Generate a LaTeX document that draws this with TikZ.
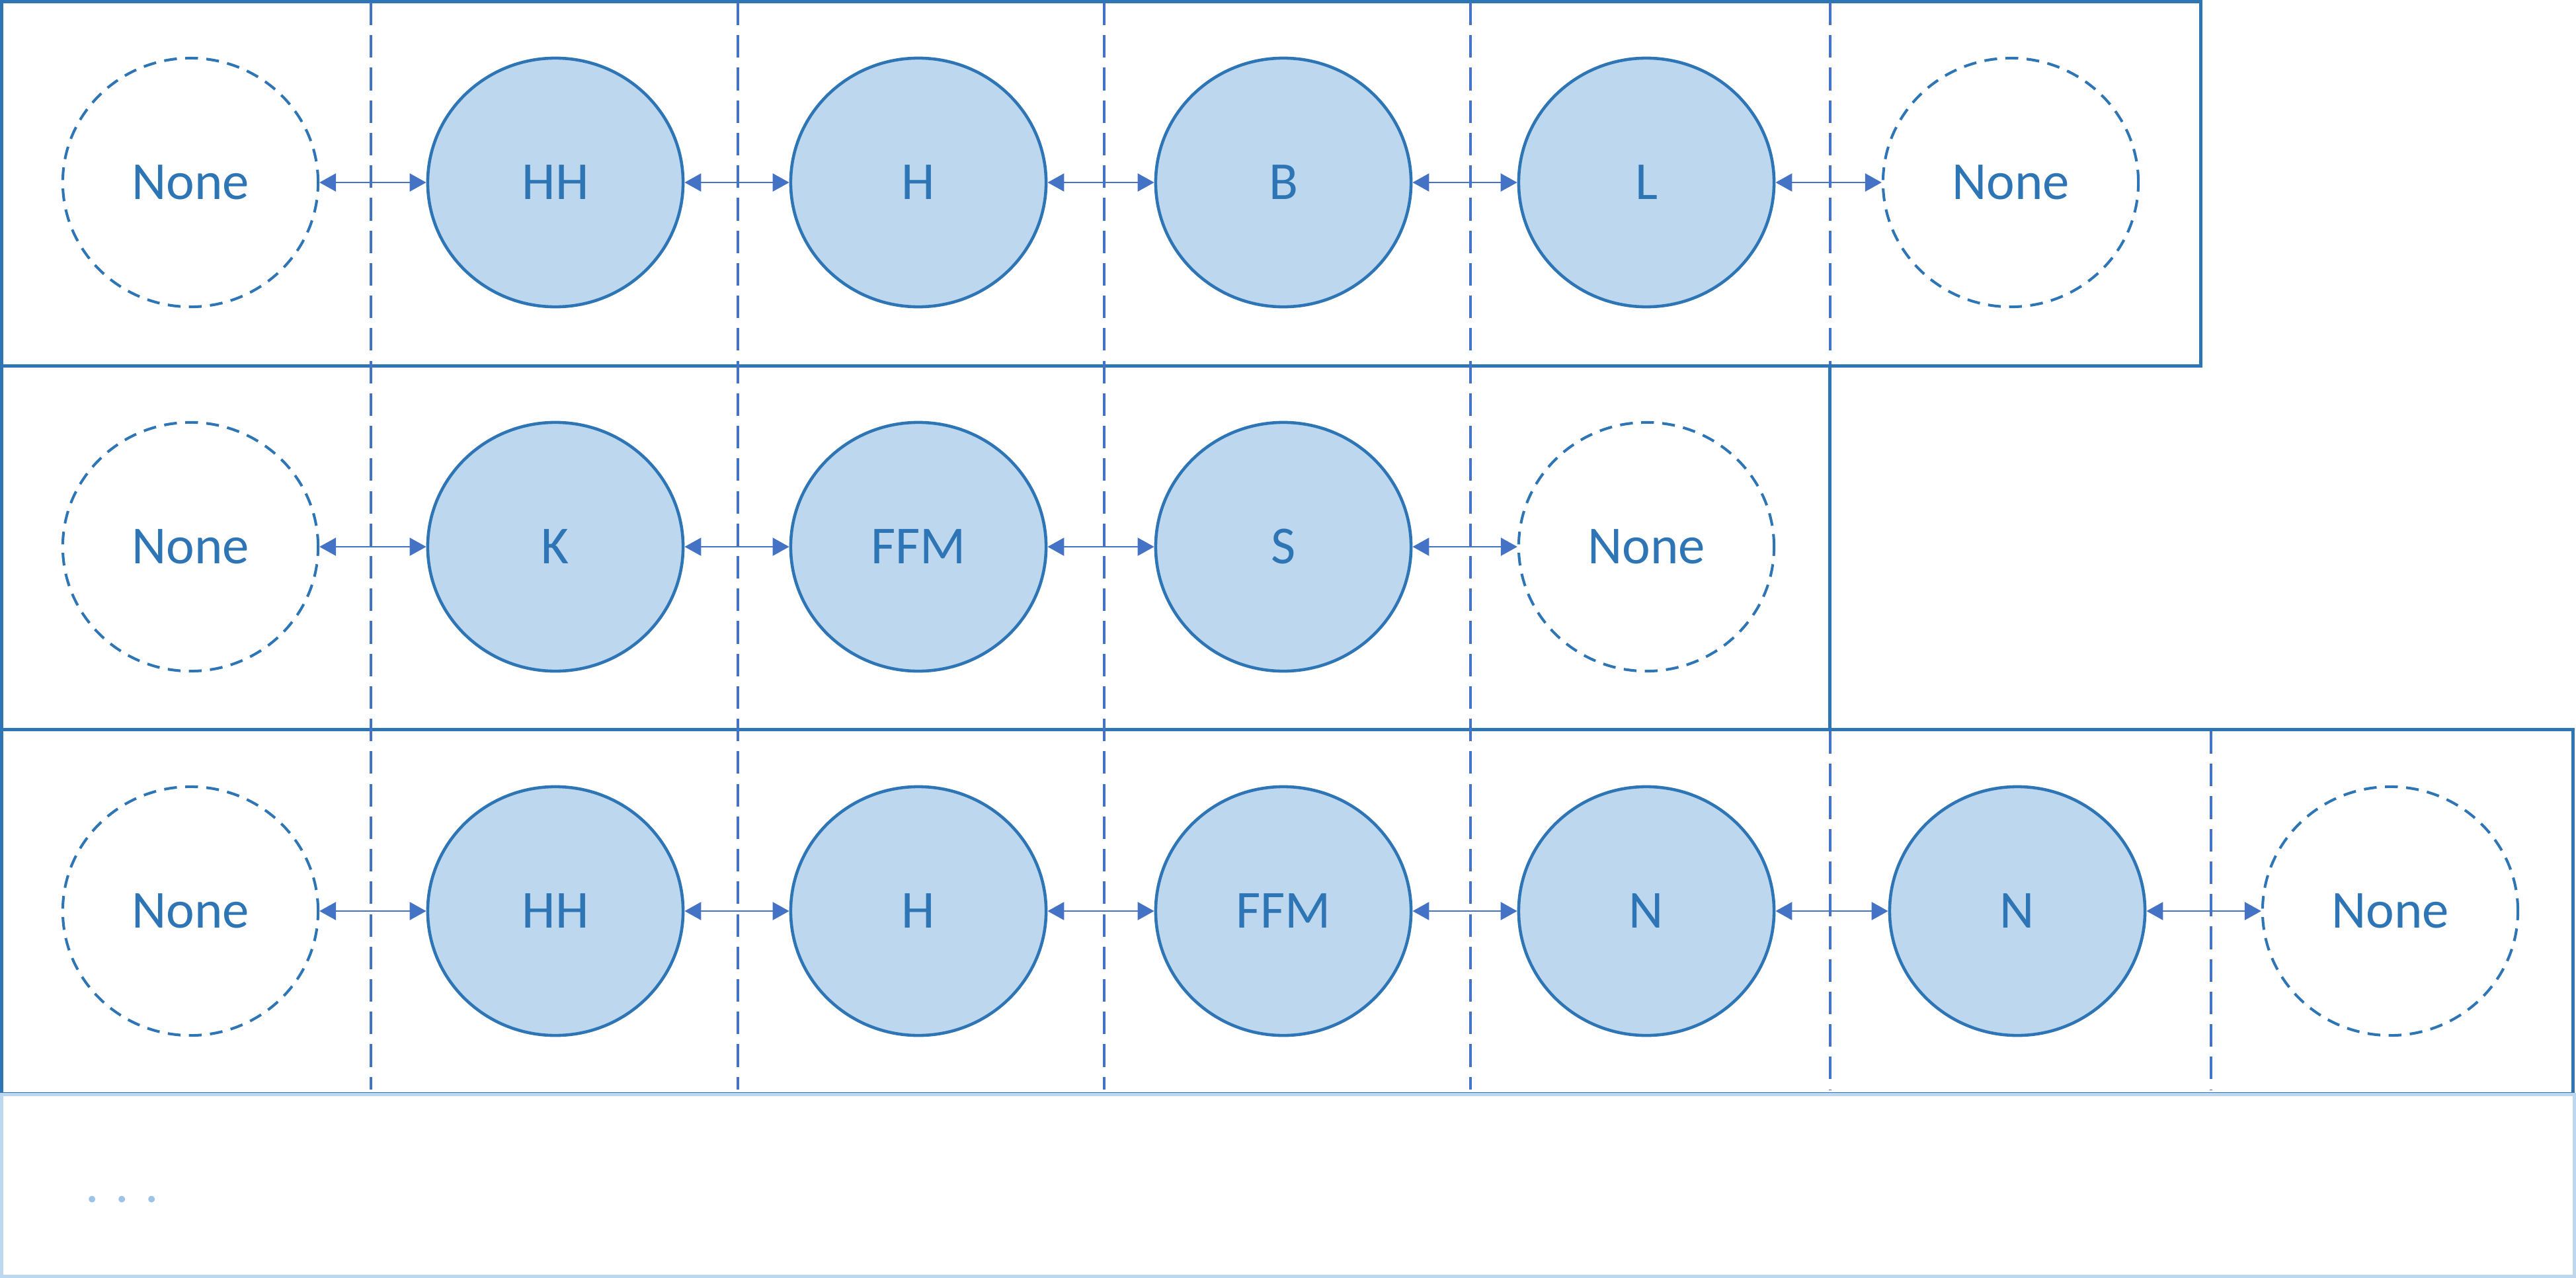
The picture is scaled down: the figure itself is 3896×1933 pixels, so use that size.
\documentclass[tikz,border=0pt]{standalone}
\usepackage{fontspec}
\setmainfont{Carlito}
\usetikzlibrary{shapes.geometric,arrows.meta}
\definecolor{dblue}{RGB}{46,117,182}
\definecolor{ablue}{RGB}{68,114,196}
\definecolor{lfill}{RGB}{189,215,238}
\definecolor{dotblue}{RGB}{157,195,230}
\tikzset{
  every node/.style={font=\fontsize{23pt}{27pt}\selectfont, text=dblue},
  full/.style={ellipse, draw=dblue, fill=lfill, line width=1.3pt, minimum width=3.86cm, minimum height=3.76cm, inner sep=0pt},
  empty/.style={ellipse, draw=dblue, line width=1.15pt, dash pattern=on 5.5pt off 3.6pt, minimum width=3.86cm, minimum height=3.76cm, inner sep=0pt},
  rowbox/.style={draw=dblue, line width=1.42pt},
  lastbox/.style={draw=lfill, line width=1.42pt},
  divider/.style={draw=ablue, line width=1.25pt, dash pattern=on 9.7pt off 4.3pt},
  conn/.style={draw=ablue, line width=0.8pt, {Triangle[length=0.25cm,width=0.27cm]}-{Triangle[length=0.25cm,width=0.27cm]}}
}
\begin{document}
\begin{tikzpicture}[x=0.01cm,y=-0.01cm]
\useasboundingbox (0,0) rectangle (3896,1933);
% row boxes
\draw[rowbox] (2.5,2.5) rectangle (3328,553);
\draw[rowbox] (2.5,553) rectangle (2767,1103);
\draw[rowbox] (2.5,1103) rectangle (3891,1654);
\draw[lastbox] (2.5,1655) rectangle (3893.5,1930.5);
% dividers
\foreach \x in {561,1116,1670,2224} \draw[divider] (\x,4) -- (\x,1648);
\draw[divider] (2768,4) -- (2768,551);
\draw[divider] (2768,1106) -- (2768,1648);
\draw[divider] (3344,1106) -- (3344,1648);
% row 1
\node[empty] (a0) at (288,276) {None};
\node[full] (a1) at (840,276) {HH};
\node[full] (a2) at (1389,276) {H};
\node[full] (a3) at (1941,276) {B};
\node[full] (a4) at (2490,276) {L};
\node[empty] (a5) at (3041,276) {None};
% row 2
\node[empty] (b0) at (288,827) {None};
\node[full] (b1) at (840,827) {K};
\node[full] (b2) at (1389,827) {FFM};
\node[full] (b3) at (1941,827) {S};
\node[empty] (b4) at (2490,827) {None};
% row 3
\node[empty] (c0) at (288,1378) {None};
\node[full] (c1) at (840,1378) {HH};
\node[full] (c2) at (1389,1378) {H};
\node[full] (c3) at (1941,1378) {FFM};
\node[full] (c4) at (2490,1378) {N};
\node[full] (c5) at (3051,1378) {N};
\node[empty] (c6) at (3615,1378) {None};
% connectors
\foreach \p/\q in {a0/a1,a1/a2,a2/a3,a3/a4,a4/a5,b0/b1,b1/b2,b2/b3,b3/b4,c0/c1,c1/c2,c2/c3,c3/c4,c4/c5,c5/c6}
  \draw[conn] (\p.east) -- (\q.west);
% ellipsis
\node[anchor=base west, inner sep=0pt, text=dotblue] (dots) at (129,1818) {. . .};
\end{tikzpicture}
\end{document}
